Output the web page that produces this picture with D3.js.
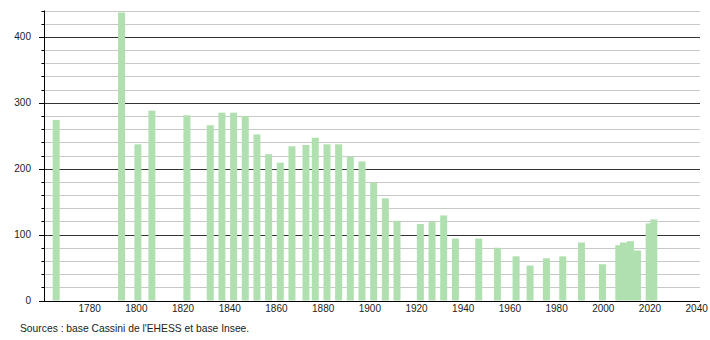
<!DOCTYPE html>
<html>
<head>
<meta charset="utf-8">
<script src="https://cdn.jsdelivr.net/npm/d3@7"></script>
<style>
  body { margin: 0; background: #fff; }
  svg text { font-family: "Liberation Sans", Arial, sans-serif; font-size: 10px; fill: #222; }
</style>
</head>
<body>
<svg id="chart"></svg>
<script>
// census years and population
const years = [1765, 1793, 1800, 1806, 1821, 1831, 1836, 1841, 1846, 1851, 1856, 1861,
  1866, 1872, 1876, 1881, 1886, 1891, 1896, 1901, 1906, 1911, 1921, 1926, 1931, 1936,
  1946, 1954, 1962, 1968, 1975, 1982, 1990, 1999, 2006, 2008, 2011, 2014, 2019, 2021];
const population = [274, 437, 237, 288, 281, 266, 285, 285, 280, 252, 222, 209,
  234, 236, 247, 237, 237, 218, 211, 179, 155, 121, 116, 119, 129, 94,
  94, 80, 67, 53, 64, 67, 88, 55, 84, 88, 90, 76, 117, 123];
const xTicks = [1780, 1800, 1820, 1840, 1860, 1880, 1900, 1920, 1940, 1960, 1980, 2000, 2020, 2040];
const yTicks = [0, 100, 200, 300, 400];
const sourceText = "Sources : base Cassini de l'EHESS et base Insee.";

const width = 710, height = 340;
const svg = d3.select("#chart").attr("width", width).attr("height", height);

const x = d3.scaleLinear().domain([1760, 2041]).range([44.5, 700.5]);
const y = d3.scaleLinear().domain([0, 440]).range([300.5, 10.5]);
const barW = 7;

// gridlines: light every 20, dark every 100
const grid = d3.range(20, 441, 20);
svg.append("g")
  .selectAll("line")
  .data(grid)
  .join("line")
  .attr("x1", 44)
  .attr("x2", 700)
  .attr("y1", (d) => Math.round(y(d)) + 0.5)
  .attr("y2", (d) => Math.round(y(d)) + 0.5)
  .attr("stroke", (d) => (d % 100 === 0 ? "#333" : "#c8c8c8"))
  .attr("stroke-width", 1);

// bars
svg.append("g")
  .selectAll("rect")
  .data(years)
  .join("rect")
  .attr("x", (d) => x(d) - barW / 2)
  .attr("width", barW)
  .attr("y", (d, i) => y(population[i]))
  .attr("height", (d, i) => y(0) - y(population[i]))
  .attr("fill", "#b0e0b0");

// y axis with minor ticks
const yAxis = svg.append("g");
yAxis.append("line")
  .attr("x1", 44.5).attr("x2", 44.5)
  .attr("y1", y(440)).attr("y2", y(0) + 0.5)
  .attr("stroke", "#000");
yAxis.selectAll("line.tick")
  .data(grid.concat([0]))
  .join("line")
  .attr("class", "tick")
  .attr("x1", (d) => (d % 100 === 0 ? 39 : 41.5))
  .attr("x2", 44.5)
  .attr("y1", (d) => Math.round(y(d)) + 0.5)
  .attr("y2", (d) => Math.round(y(d)) + 0.5)
  .attr("stroke", "#000");
yAxis.selectAll("text")
  .data(yTicks)
  .join("text")
  .attr("x", 31)
  .attr("y", (d) => y(d))
  .attr("dy", "0.35em")
  .attr("text-anchor", "end")
  .text((d) => d);

// x axis
svg.append("line")
  .attr("x1", 44).attr("x2", 700)
  .attr("y1", Math.round(y(0)) + 0.5).attr("y2", Math.round(y(0)) + 0.5)
  .attr("stroke", "#000");
svg.append("g")
  .selectAll("text")
  .data(xTicks)
  .join("text")
  .attr("x", (d) => x(d) - 1.5)
  .attr("y", 312)
  .attr("text-anchor", "middle")
  .text((d) => d);

svg.append("text")
  .attr("x", 20)
  .attr("y", 332)
  .style("font-size", "10.3px")
  .text(sourceText);
</script>
</body>
</html>
